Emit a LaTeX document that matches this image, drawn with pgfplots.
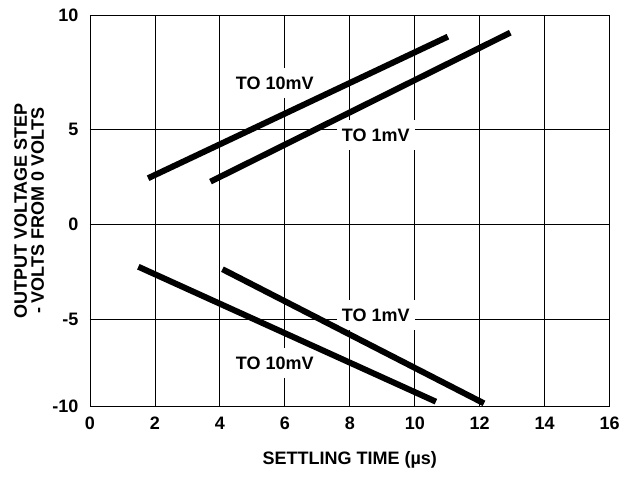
\documentclass[border=0pt]{standalone}
\usepackage{fontspec}
\setmainfont{Liberation Sans}
\usepackage{pgfplots}
\pgfplotsset{compat=1.18}
\newcommand{\lbl}{\fontsize{18}{17}\selectfont\bfseries}
\begin{document}
\begin{tikzpicture}
\begin{axis}[
  scale only axis, width=520pt, height=392pt,
  xmin=0, xmax=16, ymin=-9.62, ymax=11,
  xtick={0,2,4,6,8,10,12,14,16},
  xticklabels={0,2,4,6,8,10,12,14,16},
  ytick={-9.62,-5,0,5,11},
  yticklabels={-10,-5,0,5,10},
  grid=major,
  major grid style={black, line width=0.8pt},
  axis line style={black, line width=0.8pt},
  major tick length=0pt,
  tick label style={font=\lbl},
  xticklabel style={yshift=-7pt},
  yticklabel style={xshift=-8pt},
  xlabel={SETTLING TIME (µs)},
  x label style={font=\lbl, at={(axis description cs:0.5,-0.135)}, anchor=center},
  ylabel={OUTPUT VOLTAGE STEP\\- VOLTS FROM 0 VOLTS},
  y label style={font=\lbl, align=center, at={(axis description cs:-0.117,0.5)}, anchor=center, rotate=0},
  clip=false,
]
\node[fill=white, inner xsep=5pt, inner ysep=9pt, font=\lbl] at (axis cs:5.69,7.42) {TO 10mV};
\node[fill=white, inner xsep=5pt, inner ysep=9pt, font=\lbl] at (axis cs:8.80,4.68) {TO 1mV};
\node[fill=white, inner xsep=5pt, inner ysep=9pt, font=\lbl] at (axis cs:8.80,-4.79) {TO 1mV};
\node[fill=white, inner xsep=5pt, inner ysep=9pt, font=\lbl] at (axis cs:5.69,-7.32) {TO 10mV};
\addplot[black, line width=6pt] coordinates {(1.79,2.41) (11.02,9.86)};
\addplot[black, line width=6pt] coordinates {(3.71,2.23) (12.94,10.07)};
\addplot[black, line width=6pt] coordinates {(1.49,-2.25) (10.65,-9.35)};
\addplot[black, line width=6pt] coordinates {(4.08,-2.38) (12.13,-9.44)};
\end{axis}
\path[use as bounding box] (-90pt,-72pt) rectangle (533pt,407pt);
\end{tikzpicture}
\end{document}
